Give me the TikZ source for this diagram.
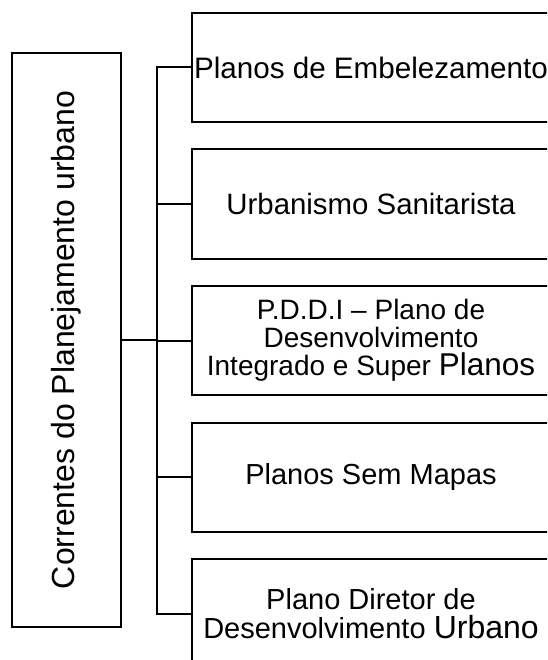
\documentclass[tikz,border=0pt]{standalone}
\usepackage{fontspec}
\setmainfont{Liberation Sans}
\usetikzlibrary{positioning}

\begin{document}
\begin{tikzpicture}[x=1pt,y=1pt,line width=2pt,
  ramo/.style={draw, minimum width=358pt, minimum height=109pt, align=center, inner sep=0pt,
    font=\fontsize{29}{34}\selectfont},
  eixo/.style={draw, rotate=90, minimum width=574pt, minimum height=109pt, inner sep=0pt,
    font=\fontsize{32}{38}\selectfont}]
\useasboundingbox (0,0) rectangle (547,-660);
\clip (0,0) rectangle (547,-660);
\node[eixo] (correntes) at (66.5,-340) {Correntes do Planejamento urbano};
\node[ramo, font=\fontsize{29.6}{34}\selectfont] (ramo1) at (371,-67.5) {Planos de Embelezamento};
\node[ramo, font=\fontsize{29.4}{34}\selectfont] (ramo2) at (371,-204) {Urbanismo Sanitarista};
\node[ramo, font=\fontsize{28}{28}\selectfont] (ramo3) at (371,-340.5)
  {P.D.D.I -- Plano de\\Desenvolvimento\\Integrado e Super {\fontsize{31.5}{28}\selectfont Planos}};
\node[ramo] (ramo4) at (371,-477) {Planos Sem Mapas};
\node[ramo, font=\fontsize{29}{29}\selectfont] (ramo5) at (371,-613.5)
  {Plano Diretor de\\Desenvolvimento {\fontsize{32}{29}\selectfont Urbano}};
\coordinate (topo) at (157,-67.5);
\coordinate (base) at (157,-613.5);
\draw (ramo1.west) -- (topo) -- (base) -- (ramo5.west);
\foreach \i in {2,3,4}
  \draw (ramo\i.west) -- (ramo\i.west -| topo);
\draw (correntes.south) -- (correntes.south -| topo);
\end{tikzpicture}
\end{document}
